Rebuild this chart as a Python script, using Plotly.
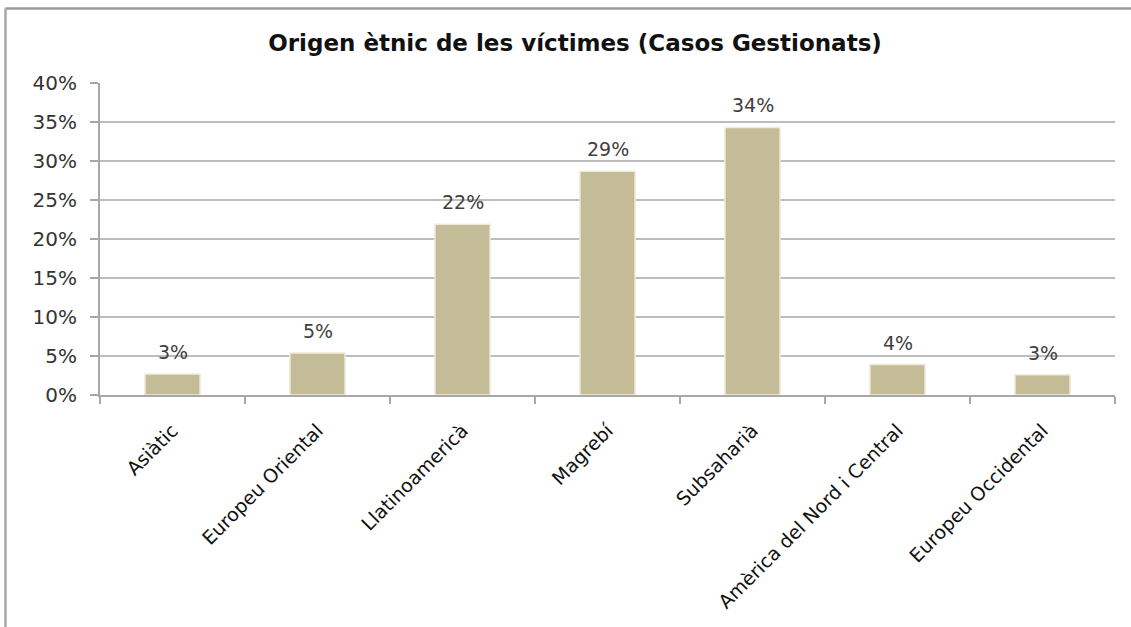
import plotly.graph_objects as go

categories = ["Asiàtic", "Europeu Oriental", "Llatinoamericà", "Magrebí",
              "Subsaharià", "Amèrica del Nord i Central", "Europeu Occidental"]
values = [2.7, 5.4, 21.9, 28.7, 34.3, 3.9, 2.6]
labels = ["3%", "5%", "22%", "29%", "34%", "4%", "3%"]
y_ticks = [0, 5, 10, 15, 20, 25, 30, 35, 40]
y_tick_labels = ["0%", "5%", "10%", "15%", "20%", "25%", "30%", "35%", "40%"]

fig = go.Figure()
fig.add_trace(go.Bar(
    x=categories, y=values,
    marker=dict(color="#C4BC96", line=dict(color="#EFEBDC", width=1.5)),
))

annotations = [
    dict(x=c, y=v, text=t, showarrow=False, yanchor="middle", yshift=22,
         font=dict(family="DejaVu Sans", size=19, color="#404040"))
    for c, v, t in zip(categories, values, labels)
]

fig.update_layout(
    width=1131, height=627,
    margin=dict(l=100, r=16, t=83, b=232),
    paper_bgcolor="white", plot_bgcolor="white",
    font=dict(family="DejaVu Sans", color="#222222"),
    title=dict(text="<b>Origen ètnic de les víctimes (Casos Gestionats)</b>",
               x=0.5084, xanchor="center", y=0.931, yanchor="middle",
               font=dict(family="DejaVu Sans", size=23, color="#111111")),
    bargap=0.62,
    showlegend=False,
    annotations=annotations,
    shapes=[
        dict(type="line", xref="paper", yref="paper",
             x0=-0.0931, x1=1.02, y0=1.2388, y1=1.2388,
             line=dict(color="#9A9A9A", width=2.5)),
        dict(type="line", xref="paper", yref="paper",
             x0=-0.0931, x1=-0.0931, y0=1.2388, y1=-0.76,
             line=dict(color="#A8A8A8", width=2.5)),
    ],
)
fig.update_xaxes(
    tickangle=-45, tickson="boundaries", ticks="outside", ticklen=7,
    tickcolor="#A8A8A8", tickwidth=1.5, showline=True, linecolor="#A8A8A8",
    linewidth=2, ticklabelstandoff=15,
    tickfont=dict(size=19, color="#111111"), showgrid=False,
)
fig.update_yaxes(
    range=[0, 40], tickvals=y_ticks, ticktext=y_tick_labels,
    ticks="outside", ticklen=8, tickcolor="#A8A8A8", tickwidth=1.5,
    showline=True, linecolor="#A8A8A8", linewidth=2,
    showgrid=True, gridcolor="#BDBDBD", gridwidth=2, ticklabelstandoff=9,
    tickfont=dict(size=20, color="#333333"), zeroline=False,
)

fig.write_html("out.html", config={"displayModeBar": False},
               post_script="document.body.style.margin='0';")
